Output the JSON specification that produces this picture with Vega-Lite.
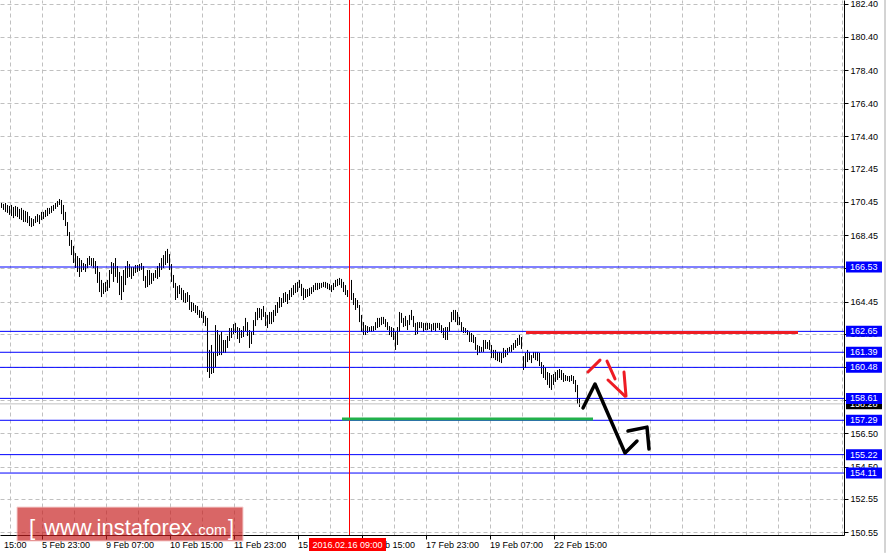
{
"$schema":"https://vega.github.io/schema/vega-lite/v6.json",
"width":844,"height":535,
"autosize":{"type":"none"},
"padding":{"left":0,"top":0,"right":46,"bottom":24},
"background":"#ffffff",
"config":{"view":{"stroke":null},"text":{"font":"Liberation Sans"}},
"datasets":{
"bars":[
{"i":0,"h":170.39,"l":170.09},{"i":1,"h":170.33,"l":169.97},{"i":2,"h":170.39,"l":169.85},{"i":3,"h":170.27,"l":169.79},{"i":4,"h":170.21,"l":169.67},{"i":5,"h":170.27,"l":169.6},{"i":6,"h":170.15,"l":169.48},{"i":7,"h":170.21,"l":169.6},{"i":8,"h":170.15,"l":169.54},{"i":9,"h":170.03,"l":169.42},
{"i":10,"h":170.09,"l":169.36},{"i":11,"h":169.97,"l":169.24},{"i":12,"h":169.91,"l":169.24},{"i":13,"h":169.85,"l":169.18},{"i":14,"h":169.6,"l":169.0},{"i":15,"h":169.48,"l":168.94},{"i":16,"h":169.42,"l":169.0},{"i":17,"h":169.6,"l":169.18},{"i":18,"h":169.72,"l":169.24},{"i":19,"h":169.66,"l":169.12},
{"i":20,"h":169.85,"l":169.36},{"i":21,"h":169.85,"l":169.42},{"i":22,"h":169.97,"l":169.54},{"i":23,"h":170.09,"l":169.6},{"i":24,"h":170.09,"l":169.72},{"i":25,"h":170.21,"l":169.79},{"i":26,"h":170.27,"l":169.91},{"i":27,"h":170.39,"l":170.03},{"i":28,"h":170.51,"l":170.15},{"i":29,"h":170.63,"l":170.27},
{"i":30,"h":170.57,"l":169.72},{"i":31,"h":170.27,"l":169.36},{"i":32,"h":169.85,"l":169.0},{"i":33,"h":169.24,"l":168.4},{"i":34,"h":168.64,"l":167.8},{"i":35,"h":168.16,"l":167.25},{"i":36,"h":167.8,"l":166.77},{"i":37,"h":167.37,"l":166.47},{"i":38,"h":167.19,"l":166.23},{"i":39,"h":167.07,"l":165.93},
{"i":40,"h":166.95,"l":166.23},{"i":41,"h":166.77,"l":166.35},{"i":42,"h":166.71,"l":166.23},{"i":43,"h":167.07,"l":166.47},{"i":44,"h":167.19,"l":166.65},{"i":45,"h":167.07,"l":166.59},{"i":46,"h":167.07,"l":166.47},{"i":47,"h":166.89,"l":166.11},{"i":48,"h":166.59,"l":165.57},{"i":49,"h":166.23,"l":165.02},
{"i":50,"h":165.75,"l":164.72},{"i":51,"h":165.57,"l":164.9},{"i":52,"h":165.63,"l":165.02},{"i":53,"h":165.75,"l":165.08},{"i":54,"h":166.35,"l":165.27},{"i":55,"h":166.83,"l":166.11},{"i":56,"h":166.77,"l":165.63},{"i":57,"h":167.07,"l":165.93},{"i":58,"h":166.59,"l":165.57},{"i":59,"h":166.23,"l":164.84},
{"i":60,"h":165.99,"l":164.54},{"i":61,"h":166.35,"l":165.02},{"i":62,"h":166.59,"l":165.44},{"i":63,"h":166.89,"l":165.87},{"i":64,"h":166.71,"l":165.93},{"i":65,"h":166.53,"l":165.81},{"i":66,"h":166.53,"l":165.99},{"i":67,"h":166.65,"l":166.17},{"i":68,"h":166.65,"l":166.23},{"i":69,"h":166.71,"l":166.29},
{"i":70,"h":166.77,"l":166.35},{"i":71,"h":166.59,"l":165.69},{"i":72,"h":165.99,"l":165.27},{"i":73,"h":166.35,"l":165.32},{"i":74,"h":166.35,"l":165.44},{"i":75,"h":166.17,"l":165.51},{"i":76,"h":166.17,"l":165.69},{"i":77,"h":166.35,"l":165.87},{"i":78,"h":166.59,"l":165.81},{"i":79,"h":166.77,"l":165.93},
{"i":80,"h":167.07,"l":166.35},{"i":81,"h":167.25,"l":166.47},{"i":82,"h":167.49,"l":166.65},{"i":83,"h":167.62,"l":166.77},{"i":84,"h":167.31,"l":166.35},{"i":85,"h":166.71,"l":165.63},{"i":86,"h":166.05,"l":165.27},{"i":87,"h":165.57,"l":164.54},{"i":88,"h":165.38,"l":164.66},{"i":89,"h":165.44,"l":164.9},
{"i":90,"h":165.27,"l":164.54},{"i":91,"h":165.14,"l":164.42},{"i":92,"h":164.96,"l":164.36},{"i":93,"h":165.02,"l":164.42},{"i":94,"h":164.84,"l":163.94},{"i":95,"h":164.42,"l":163.82},{"i":96,"h":164.36,"l":163.88},{"i":97,"h":164.24,"l":163.76},{"i":98,"h":164.18,"l":163.64},{"i":99,"h":163.94,"l":163.46},
{"i":100,"h":163.88,"l":163.46},{"i":101,"h":163.82,"l":163.16},{"i":102,"h":163.58,"l":162.97},{"i":103,"h":163.46,"l":160.2},{"i":104,"h":161.53,"l":159.84},{"i":105,"h":161.83,"l":160.08},{"i":106,"h":161.41,"l":160.14},{"i":107,"h":163.03,"l":160.5},{"i":108,"h":162.73,"l":161.16},{"i":109,"h":162.43,"l":161.22},
{"i":110,"h":162.61,"l":161.22},{"i":111,"h":162.13,"l":161.35},{"i":112,"h":162.13,"l":161.35},{"i":113,"h":162.37,"l":161.65},{"i":114,"h":162.85,"l":162.07},{"i":115,"h":162.85,"l":162.25},{"i":116,"h":163.09,"l":162.49},{"i":117,"h":163.16,"l":162.55},{"i":118,"h":162.91,"l":162.19},{"i":119,"h":162.85,"l":161.95},
{"i":120,"h":162.73,"l":162.25},{"i":121,"h":162.97,"l":162.31},{"i":122,"h":163.46,"l":162.67},{"i":123,"h":163.21,"l":162.37},{"i":124,"h":162.73,"l":161.65},{"i":125,"h":162.61,"l":161.89},{"i":126,"h":163.33,"l":162.43},{"i":127,"h":163.82,"l":162.97},{"i":128,"h":164.06,"l":163.33},{"i":129,"h":164.06,"l":163.46},
{"i":130,"h":164.0,"l":163.33},{"i":131,"h":164.18,"l":163.52},{"i":132,"h":163.82,"l":162.97},{"i":133,"h":163.64,"l":162.85},{"i":134,"h":163.82,"l":163.09},{"i":135,"h":163.82,"l":163.09},{"i":136,"h":163.94,"l":163.21},{"i":137,"h":164.24,"l":163.58},{"i":138,"h":164.42,"l":163.76},{"i":139,"h":164.72,"l":164.06},
{"i":140,"h":164.66,"l":164.12},{"i":141,"h":164.96,"l":164.36},{"i":142,"h":165.02,"l":164.42},{"i":143,"h":164.9,"l":164.3},{"i":144,"h":165.14,"l":164.54},{"i":145,"h":165.27,"l":164.72},{"i":146,"h":165.44,"l":164.84},{"i":147,"h":165.57,"l":164.96},{"i":148,"h":165.63,"l":165.02},{"i":149,"h":165.75,"l":165.27},
{"i":150,"h":165.51,"l":164.78},{"i":151,"h":165.27,"l":164.54},{"i":152,"h":165.2,"l":164.66},{"i":153,"h":165.2,"l":164.72},{"i":154,"h":165.27,"l":164.78},{"i":155,"h":165.32,"l":164.9},{"i":156,"h":165.44,"l":165.02},{"i":157,"h":165.57,"l":165.14},{"i":158,"h":165.57,"l":165.14},{"i":159,"h":165.57,"l":165.2},
{"i":160,"h":165.57,"l":165.27},{"i":161,"h":165.63,"l":165.32},{"i":162,"h":165.63,"l":165.27},{"i":163,"h":165.57,"l":165.2},{"i":164,"h":165.51,"l":165.14},{"i":165,"h":165.44,"l":165.02},{"i":166,"h":165.57,"l":165.14},{"i":167,"h":165.75,"l":165.32},{"i":168,"h":165.81,"l":165.38},{"i":169,"h":165.87,"l":165.44},
{"i":170,"h":165.81,"l":165.27},{"i":171,"h":165.63,"l":165.02},{"i":172,"h":165.44,"l":164.84},{"i":173,"h":165.14,"l":164.72},{"i":174,"h":166.05,"l":164.42},{"i":175,"h":165.75,"l":164.54},{"i":176,"h":164.96,"l":164.24},{"i":177,"h":164.66,"l":163.94},{"i":178,"h":164.54,"l":164.06},{"i":179,"h":164.24,"l":163.21},
{"i":180,"h":163.64,"l":162.61},{"i":181,"h":163.21,"l":162.43},{"i":182,"h":163.03,"l":162.43},{"i":183,"h":162.97,"l":162.55},{"i":184,"h":162.91,"l":162.61},{"i":185,"h":162.97,"l":162.61},{"i":186,"h":162.97,"l":162.67},{"i":187,"h":163.21,"l":162.73},{"i":188,"h":163.46,"l":162.85},{"i":189,"h":163.46,"l":162.91},
{"i":190,"h":163.52,"l":163.03},{"i":191,"h":163.52,"l":163.09},{"i":192,"h":163.39,"l":162.91},{"i":193,"h":163.21,"l":162.73},{"i":194,"h":162.97,"l":162.43},{"i":195,"h":162.91,"l":162.31},{"i":196,"h":162.85,"l":162.13},{"i":197,"h":162.61,"l":161.53},{"i":198,"h":162.91,"l":161.83},{"i":199,"h":163.82,"l":162.61},
{"i":200,"h":163.76,"l":163.16},{"i":201,"h":163.46,"l":162.91},{"i":202,"h":163.58,"l":162.97},{"i":203,"h":163.33,"l":162.73},{"i":204,"h":163.64,"l":163.03},{"i":205,"h":163.94,"l":163.33},{"i":206,"h":163.58,"l":162.91},{"i":207,"h":163.16,"l":162.43},{"i":208,"h":163.21,"l":162.49},{"i":209,"h":163.21,"l":162.85},
{"i":210,"h":163.21,"l":162.85},{"i":211,"h":163.16,"l":162.61},{"i":212,"h":163.16,"l":162.73},{"i":213,"h":163.16,"l":162.73},{"i":214,"h":163.16,"l":162.79},{"i":215,"h":163.09,"l":162.61},{"i":216,"h":163.16,"l":162.73},{"i":217,"h":163.16,"l":162.67},{"i":218,"h":163.16,"l":162.85},{"i":219,"h":163.16,"l":162.73},
{"i":220,"h":163.03,"l":162.55},{"i":221,"h":162.85,"l":162.25},{"i":222,"h":162.91,"l":162.13},{"i":223,"h":162.91,"l":162.13},{"i":224,"h":163.21,"l":162.61},{"i":225,"h":163.82,"l":163.21},{"i":226,"h":163.94,"l":163.33},{"i":227,"h":163.94,"l":163.21},{"i":228,"h":163.82,"l":163.03},{"i":229,"h":163.52,"l":163.03},
{"i":230,"h":163.21,"l":162.61},{"i":231,"h":162.91,"l":162.55},{"i":232,"h":162.85,"l":162.55},{"i":233,"h":162.73,"l":162.43},{"i":234,"h":162.61,"l":162.01},{"i":235,"h":162.55,"l":162.01},{"i":236,"h":162.43,"l":161.95},{"i":237,"h":162.31,"l":161.53},{"i":238,"h":161.83,"l":161.22},{"i":239,"h":161.77,"l":161.35},
{"i":240,"h":161.71,"l":161.41},{"i":241,"h":162.13,"l":161.41},{"i":242,"h":162.13,"l":161.59},{"i":243,"h":162.01,"l":161.59},{"i":244,"h":162.13,"l":161.53},{"i":245,"h":161.83,"l":161.04},{"i":246,"h":161.53,"l":161.04},{"i":247,"h":161.53,"l":160.92},{"i":248,"h":161.41,"l":160.86},{"i":249,"h":161.41,"l":160.8},
{"i":250,"h":161.35,"l":160.74},{"i":251,"h":161.65,"l":161.04},{"i":252,"h":161.53,"l":161.1},{"i":253,"h":161.65,"l":161.22},{"i":254,"h":161.71,"l":161.41},{"i":255,"h":161.83,"l":161.41},{"i":256,"h":161.95,"l":161.53},{"i":257,"h":162.13,"l":161.65},{"i":258,"h":162.25,"l":161.77},{"i":259,"h":162.43,"l":161.83},
{"i":260,"h":162.31,"l":161.59},{"i":261,"h":161.16,"l":160.32},{"i":262,"h":161.35,"l":160.44},{"i":263,"h":161.53,"l":160.8},{"i":264,"h":161.41,"l":160.92},{"i":265,"h":161.22,"l":160.74},{"i":266,"h":161.41,"l":161.04},{"i":267,"h":161.41,"l":160.92},{"i":268,"h":161.41,"l":160.86},{"i":269,"h":161.35,"l":160.56},
{"i":270,"h":160.8,"l":160.08},{"i":271,"h":160.62,"l":159.84},{"i":272,"h":160.5,"l":159.72},{"i":273,"h":160.2,"l":159.42},{"i":274,"h":160.14,"l":159.24},{"i":275,"h":160.02,"l":159.12},{"i":276,"h":160.08,"l":159.42},{"i":277,"h":160.2,"l":159.6},{"i":278,"h":160.32,"l":159.72},{"i":279,"h":160.38,"l":159.84},
{"i":280,"h":160.32,"l":159.72},{"i":281,"h":160.14,"l":159.6},{"i":282,"h":160.02,"l":159.66},{"i":283,"h":159.96,"l":159.66},{"i":284,"h":159.96,"l":159.6},{"i":285,"h":160.02,"l":159.66},{"i":286,"h":159.96,"l":159.48},{"i":287,"h":159.72,"l":158.99},{"i":288,"h":159.42,"l":158.27},{"i":289,"h":158.63,"l":158.09}
],
"bid":[{"p":158.28}],
"levels":[{"p":166.53},{"p":162.65},{"p":161.39},{"p":160.48},{"p":158.61},{"p":157.29},{"p":155.22},{"p":154.11}],
"cross":[{"i":174}],
"redline":[{"a":262.25,"b":398.25,"p":162.58}],
"greenline":[{"a":170.25,"b":295.75,"p":157.37}],
"redarrow":[{"s":"a","k":0,"i":293.25,"p":160.2},{"s":"a","k":1,"i":299.25,"p":160.92},{"s":"b","k":0,"i":302.75,"p":160.86},{"s":"b","k":1,"i":306.75,"p":159.78},{"s":"c","k":0,"i":303.25,"p":159.72},{"s":"c","k":1,"i":311.75,"p":158.75},{"s":"d","k":0,"i":311.25,"p":160.2},{"s":"d","k":1,"i":312.25,"p":158.75}],
"blackarrow":[{"s":"e","k":0,"i":290.75,"p":158.03},{"s":"e","k":1,"i":296.75,"p":159.48},{"s":"e","k":2,"i":311.75,"p":155.32},{"s":"e","k":3,"i":317.75,"p":156.04},{"s":"f","k":0,"i":313.25,"p":156.64},{"s":"f","k":1,"i":322.75,"p":156.88},{"s":"f","k":2,"i":323.75,"p":155.56}],
"stamp":[{"t":"2016.02.16 09:00"}],
"one":[{"t":""}]
},
"layer":[
{"data":{"name":"bars"},"mark":{"type":"rule","color":"#000000","strokeWidth":1},
 "encoding":{
  "x":{"field":"i","type":"quantitative","scale":{"domain":[-0.75,421.25],"nice":false,"zero":false},
   "axis":{"orient":"top","values":[4,20,36,52,68,84,100,116,132,148,164,180,196,212,228,244,260,276,292,308,324,340,356,372,388,404,420],"grid":true,"gridColor":"#c0c0c0","gridDash":[4,3],"gridWidth":1,"labels":false,"ticks":false,"domain":false,"title":null}},
  "y":{"field":"l","type":"quantitative","scale":{"domain":[150.375,182.625],"nice":false,"zero":false},
   "axis":{"orient":"right","values":[150.55,152.55,154.5,156.5,158.5,160.5,162.5,164.45,166.45,168.45,170.45,172.45,174.4,176.4,178.4,180.4,182.4],"format":".2f","grid":true,"gridColor":"#c0c0c0","gridDash":[4,3],"gridWidth":1,"domain":true,"domainColor":"#000000","ticks":true,"tickColor":"#000000","tickSize":4,"labels":true,"labelFont":"Liberation Sans","labelFontSize":9,"labelColor":"#000000","labelPadding":2,"title":null,"labelOverlap":false,"labelBound":false,"labelFlush":false}},
  "y2":{"field":"h"}}},
{"data":{"name":"bid"},"mark":{"type":"rule","color":"#c0c0c0","strokeWidth":1},
 "encoding":{"y":{"field":"p","type":"quantitative","scale":{"domain":[150.375,182.625],"nice":false,"zero":false},"axis":null}}},
{"data":{"name":"levels"},"mark":{"type":"rule","color":"#0000ff","strokeWidth":1},
 "encoding":{"y":{"field":"p","type":"quantitative","scale":{"domain":[150.375,182.625],"nice":false,"zero":false},"axis":null}}},
{"data":{"name":"cross"},"mark":{"type":"rule","color":"#ff0000","strokeWidth":1},
 "encoding":{"x":{"field":"i","type":"quantitative","scale":{"domain":[-0.75,421.25],"nice":false,"zero":false},
   "axis":{"orient":"bottom","values":[1,20,52,84,116,148,180,212,244,276],
    "labelExpr":"['15:00','5 Feb 23:00','9 Feb 07:00','10 Feb 15:00','11 Feb 23:00','15 Feb 07:00','16 Feb 15:00','17 Feb 23:00','19 Feb 07:00','22 Feb 15:00'][indexof([1,20,52,84,116,148,180,212,244,276], datum.value)]",
    "labelAlign":"left","labelFont":"Liberation Sans","labelFontSize":9,"labelColor":"#000000","labelPadding":1,"tickSize":4,"tickColor":"#000000",
    "tickOpacity":{"condition":{"test":"datum.value == 1","value":0},"value":1},
    "domainColor":"#000000","grid":false,"title":null,"labelOverlap":false,"labelFlush":false,"labelBound":false}}}},
{"data":{"name":"redline"},"mark":{"type":"rule","color":"#ee1c24","strokeWidth":3},
 "encoding":{"x":{"field":"a","type":"quantitative","scale":{"domain":[-0.75,421.25],"nice":false,"zero":false},"axis":null},"x2":{"field":"b"},
  "y":{"field":"p","type":"quantitative","scale":{"domain":[150.375,182.625],"nice":false,"zero":false},"axis":null}}},
{"data":{"name":"greenline"},"mark":{"type":"rule","color":"#22b14c","strokeWidth":3},
 "encoding":{"x":{"field":"a","type":"quantitative","scale":{"domain":[-0.75,421.25],"nice":false,"zero":false},"axis":null},"x2":{"field":"b"},
  "y":{"field":"p","type":"quantitative","scale":{"domain":[150.375,182.625],"nice":false,"zero":false},"axis":null}}},
{"data":{"name":"redarrow"},"mark":{"type":"line","color":"#ee1c24","strokeWidth":3,"strokeCap":"round"},
 "encoding":{"x":{"field":"i","type":"quantitative","scale":{"domain":[-0.75,421.25],"nice":false,"zero":false},"axis":null},
  "y":{"field":"p","type":"quantitative","scale":{"domain":[150.375,182.625],"nice":false,"zero":false},"axis":null},
  "detail":{"field":"s"},"order":{"field":"k"}}},
{"data":{"name":"blackarrow"},"mark":{"type":"line","color":"#000000","strokeWidth":3.5,"strokeCap":"round","strokeJoin":"round"},
 "encoding":{"x":{"field":"i","type":"quantitative","scale":{"domain":[-0.75,421.25],"nice":false,"zero":false},"axis":null},
  "y":{"field":"p","type":"quantitative","scale":{"domain":[150.375,182.625],"nice":false,"zero":false},"axis":null},
  "detail":{"field":"s"},"order":{"field":"k"}}},
{"data":{"name":"one"},"mark":{"type":"rect","color":"#c81e1e","opacity":0.68,"stroke":"#f2b8b8","strokeWidth":1},
 "encoding":{"x":{"datum":7.75,"type":"quantitative","scale":{"domain":[-0.75,421.25],"nice":false,"zero":false},"axis":null},"x2":{"datum":120.75},
  "y":{"datum":152.06,"type":"quantitative","scale":{"domain":[150.375,182.625],"nice":false,"zero":false},"axis":null},"y2":{"datum":150.01}}},
{"data":{"name":"one"},"mark":{"type":"text","color":"#ffffff","fontSize":22,"align":"left","baseline":"alphabetic","text":"["},
 "encoding":{"x":{"datum":13.75,"type":"quantitative","scale":{"domain":[-0.75,421.25],"nice":false,"zero":false},"axis":null},
  "y":{"datum":150.375,"type":"quantitative","scale":{"domain":[150.375,182.625],"nice":false,"zero":false},"axis":null}}},
{"data":{"name":"one"},"mark":{"type":"text","color":"#ffffff","fontSize":22,"align":"left","baseline":"alphabetic","text":"www.instaforex"},
 "encoding":{"x":{"datum":21.25,"type":"quantitative","scale":{"domain":[-0.75,421.25],"nice":false,"zero":false},"axis":null},
  "y":{"datum":150.375,"type":"quantitative","scale":{"domain":[150.375,182.625],"nice":false,"zero":false},"axis":null}}},
{"data":{"name":"one"},"mark":{"type":"text","color":"#ffffff","fontSize":15,"align":"left","baseline":"alphabetic","text":".com"},
 "encoding":{"x":{"datum":96.25,"type":"quantitative","scale":{"domain":[-0.75,421.25],"nice":false,"zero":false},"axis":null},
  "y":{"datum":150.375,"type":"quantitative","scale":{"domain":[150.375,182.625],"nice":false,"zero":false},"axis":null}}},
{"data":{"name":"one"},"mark":{"type":"text","color":"#ffffff","fontSize":22,"align":"left","baseline":"alphabetic","text":"]"},
 "encoding":{"x":{"datum":113.25,"type":"quantitative","scale":{"domain":[-0.75,421.25],"nice":false,"zero":false},"axis":null},
  "y":{"datum":150.375,"type":"quantitative","scale":{"domain":[150.375,182.625],"nice":false,"zero":false},"axis":null}}},
{"data":{"name":"bid"},"mark":{"type":"tick","orient":"horizontal","color":"#000000","opacity":1,"size":36,"thickness":11},
 "encoding":{"x":{"datum":431.25,"type":"quantitative","scale":{"domain":[-0.75,421.25],"nice":false,"zero":false},"axis":null},
  "y":{"field":"p","type":"quantitative","scale":{"domain":[150.375,182.625],"nice":false,"zero":false},"axis":null}}},
{"data":{"name":"bid"},"mark":{"type":"text","color":"#ffffff","fontSize":9,"align":"left","baseline":"middle"},
 "encoding":{"x":{"datum":424.25,"type":"quantitative","scale":{"domain":[-0.75,421.25],"nice":false,"zero":false},"axis":null},
  "y":{"field":"p","type":"quantitative","scale":{"domain":[150.375,182.625],"nice":false,"zero":false},"axis":null},
  "text":{"field":"p","type":"quantitative","format":".2f"}}},
{"data":{"name":"levels"},"mark":{"type":"tick","orient":"horizontal","color":"#0000ff","opacity":1,"size":36,"thickness":11},
 "encoding":{"x":{"datum":431.25,"type":"quantitative","scale":{"domain":[-0.75,421.25],"nice":false,"zero":false},"axis":null},
  "y":{"field":"p","type":"quantitative","scale":{"domain":[150.375,182.625],"nice":false,"zero":false},"axis":null}}},
{"data":{"name":"levels"},"mark":{"type":"text","color":"#ffffff","fontSize":9,"align":"left","baseline":"middle"},
 "encoding":{"x":{"datum":424.25,"type":"quantitative","scale":{"domain":[-0.75,421.25],"nice":false,"zero":false},"axis":null},
  "y":{"field":"p","type":"quantitative","scale":{"domain":[150.375,182.625],"nice":false,"zero":false},"axis":null},
  "text":{"field":"p","type":"quantitative","format":".2f"}}},
{"data":{"name":"stamp"},"mark":{"type":"tick","orient":"horizontal","color":"#ff0000","opacity":1,"size":77,"thickness":13},
 "encoding":{"x":{"datum":173,"type":"quantitative","scale":{"domain":[-0.75,421.25],"nice":false,"zero":false},"axis":null},
  "y":{"datum":149.8,"type":"quantitative","scale":{"domain":[150.375,182.625],"nice":false,"zero":false},"axis":null}}},
{"data":{"name":"stamp"},"mark":{"type":"text","color":"#ffffff","fontSize":9,"align":"center","baseline":"middle"},
 "encoding":{"x":{"datum":173,"type":"quantitative","scale":{"domain":[-0.75,421.25],"nice":false,"zero":false},"axis":null},
  "y":{"datum":149.8,"type":"quantitative","scale":{"domain":[150.375,182.625],"nice":false,"zero":false},"axis":null},
  "text":{"field":"t"}}},
{"data":{"name":"one"},"mark":{"type":"rule","color":"#a8a8a8","strokeWidth":1},
 "encoding":{"x":{"datum":441.75,"type":"quantitative","scale":{"domain":[-0.75,421.25],"nice":false,"zero":false},"axis":null},
  "y":{"datum":182.625,"type":"quantitative","scale":{"domain":[150.375,182.625],"nice":false,"zero":false},"axis":null},"y2":{"datum":149.3}}}
],
"resolve":{"axis":{"x":"independent","y":"independent"}}
}
